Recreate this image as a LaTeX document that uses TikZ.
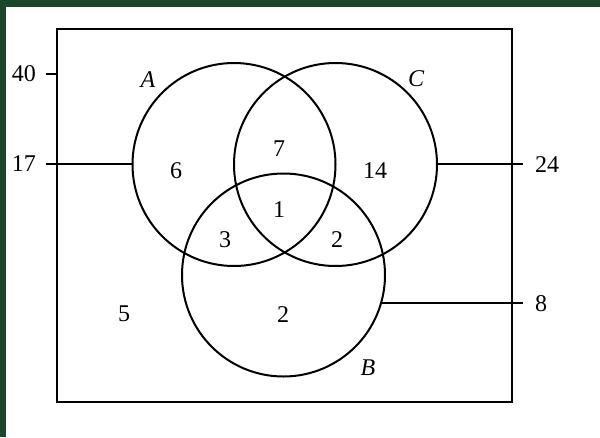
\documentclass[tikz,border=0pt]{standalone}
\usepackage{fontspec}
\setmainfont{Liberation Serif}
\definecolor{framegreen}{RGB}{27,70,40}
\begin{document}
\begin{tikzpicture}[x=1pt,y=-1pt,line width=2pt,
  setc/.style={circle,draw,line width=2pt,minimum size=203pt,inner sep=0pt},
  num/.style={font=\fontsize{24}{24}\selectfont,inner sep=0pt},
  lab/.style={font=\fontsize{24}{24}\selectfont\itshape,inner sep=0pt}]
\useasboundingbox (0,0) rectangle (600,437);
\fill[white] (0,0) rectangle (600,437);
\fill[framegreen] (0,0) rectangle (600,7);
\fill[framegreen] (0,0) rectangle (6,437);
% universe
\node[draw,line width=2pt,minimum width=455pt,minimum height=373pt,inner sep=0pt] (U) at (284.5,215.5) {};
% sets
\node[setc] (A) at (234,164.5) {};
\node[setc] (C) at (335.5,164.5) {};
\node[setc] (B) at (283.5,275) {};
% set labels
\node[lab] (la) at (148,80) {A};
\node[lab] (lc) at (416,79) {C};
\node[lab] (lb) at (368,368) {B};
% region numbers
\node[num] (n6) at (176,171) {6};
\node[num] (n7) at (279,149) {7};
\node[num] (n14) at (375,171) {14};
\node[num] (n1) at (279,210) {1};
\node[num] (n3) at (225,240) {3};
\node[num] (n2a) at (337,240) {2};
\node[num] (n5) at (124,314) {5};
\node[num] (n2b) at (283,315) {2};
% pointers
\coordinate (t40) at (46,74);
\coordinate (t17) at (46,164);
\coordinate (t24) at (523,164);
\coordinate (t8) at (523,303);
\draw (t40) -- (t40 -| U.west);
\draw (t17) -- (t17 -| A.west);
\draw (t24 -| C.east) -- (t24);
\draw (B.-16) -- (B.-16 -| t8);
\node[num] (l40) at (24,74) {40};
\node[num] (l17) at (24,164) {17};
\node[num] (l24) at (547,165) {24};
\node[num] (l8) at (541,304) {8};
\end{tikzpicture}
\end{document}
